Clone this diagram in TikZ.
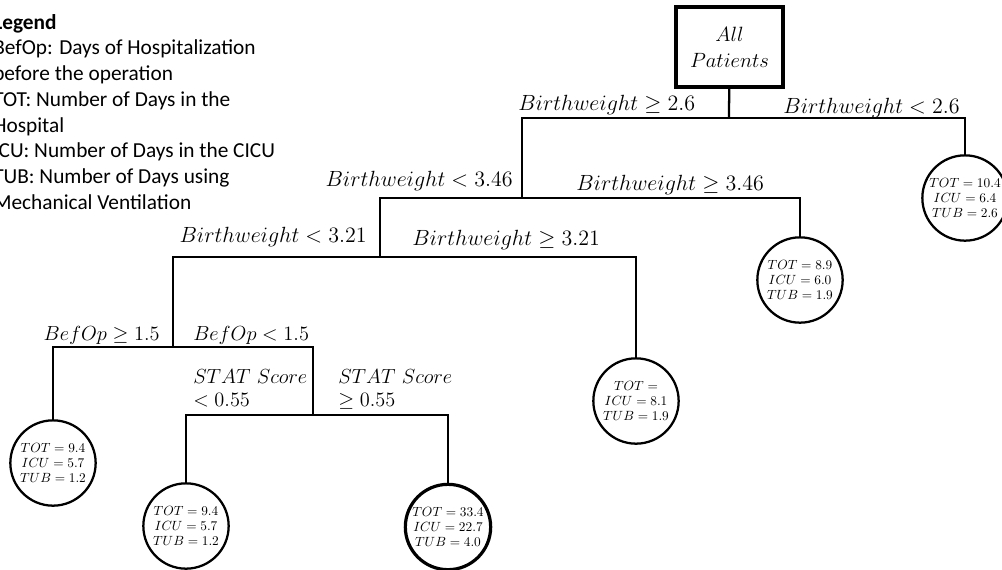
\RequirePackage{fix-cm}
\documentclass[tikz,border=0pt]{standalone}
\usepackage{fontspec}
\newfontfamily\legendfont{Carlito}
\usetikzlibrary{positioning}

\begin{document}
\begin{tikzpicture}[x=0.75pt,y=-0.75pt,
  every node/.style={inner sep=0pt},
  branch/.style={line width=1.7pt},
  root/.style={draw,line width=2.6pt,minimum width=80pt,minimum height=60pt,
    align=center,font=\fontsize{15.5}{19.5}\selectfont},
  leaf/.style={circle,draw,line width=1.7pt,minimum size=64pt,align=center,
    font=\fontsize{10}{11.5}\selectfont},
  cond/.style={font=\fontsize{16.5}{17.3}\selectfont,anchor=base west},
  smallcond/.style={cond,font=\fontsize{15.3}{17.3}\selectfont}
]
\clip (0,0) rectangle (1002,569);

% legend
\node[anchor=north west,align=left,font=\legendfont\fontsize{16}{19.3}\selectfont] (legend) at (-7,14)
  {\textbf{Legend}\\BefOp: Days of Hospitalization\\before the operation\\TOT: Number of Days in the\\Hospital\\ICU: Number of Days in the CICU\\TUB: Number of Days using\\Mechanical Ventilation};

% root and split points
\node[root] (all) at (729.5,47) {$All$\\$Patients$};
\coordinate (s1) at (729,118);
\coordinate (s2) at (522,198);
\coordinate (s3) at (380,257);
\coordinate (s4) at (173,347);
\coordinate (s5) at (313,415);

% leaves
\node[leaf] (lowbw) at (965,198) {$TOT = 10.4$\\$ICU = 6.4$\\$TUB = 2.6$};
\node[leaf] (highbw) at (800,280) {$TOT = 8.9$\\$ICU = 6.0$\\$TUB = 1.9$};
\node[leaf] (midbw) at (636,401) {$TOT =$\\$ICU = 8.1$\\$TUB = 1.9$};
\node[leaf] (longbef) at (53,463) {$TOT = 9.4$\\$ICU = 5.7$\\$TUB = 1.2$};
\node[leaf] (lowstat) at (186,526) {$TOT = 9.4$\\$ICU = 5.7$\\$TUB = 1.2$};
\node[leaf,line width=2.4pt] (highstat) at (448,527) {$TOT = 33.4$\\$ICU = 22.7$\\$TUB = 4.0$};

% branches
\draw[branch] (all) -- (s1);
\draw[branch] (s1) -| (s2);
\draw[branch] (s1) -| (lowbw);
\draw[branch] (s2) -| (s3);
\draw[branch] (s2) -| (highbw);
\draw[branch] (s3) -| (s4);
\draw[branch] (s3) -| (midbw);
\draw[branch] (s4) -| (longbef);
\draw[branch] (s4) -| (s5);
\draw[branch] (s5) -| (lowstat);
\draw[branch] (s5) -| (highstat);

% conditions
\node[cond] (c1l) at (518,110) {$Birthweight \geq 2.6$};
\node[cond,anchor=base east] (c1r) at (960,113) {$Birthweight < 2.6$};
\node[cond,anchor=base east] (c2l) at (513,186) {$Birthweight < 3.46$};
\node[cond] (c2r) at (576,190) {$Birthweight \geq 3.46$};
\node[cond,anchor=base east] (c3l) at (367,242) {$Birthweight < 3.21$};
\node[cond] (c3r) at (412,245) {$Birthweight \geq 3.21$};
\node[smallcond,anchor=base east] (c4l) at (160,340) {$BefOp \geq 1.5$};
\node[smallcond] (c4r) at (193,340) {$BefOp < 1.5$};
\node[smallcond,align=left,anchor=north west] (c5l) at (193,369) {$STAT\ Score$\\$< 0.55$};
\node[smallcond,align=left,anchor=north west] (c5r) at (338,369) {$STAT\ Score$\\$\geq 0.55$};
\end{tikzpicture}
\end{document}
